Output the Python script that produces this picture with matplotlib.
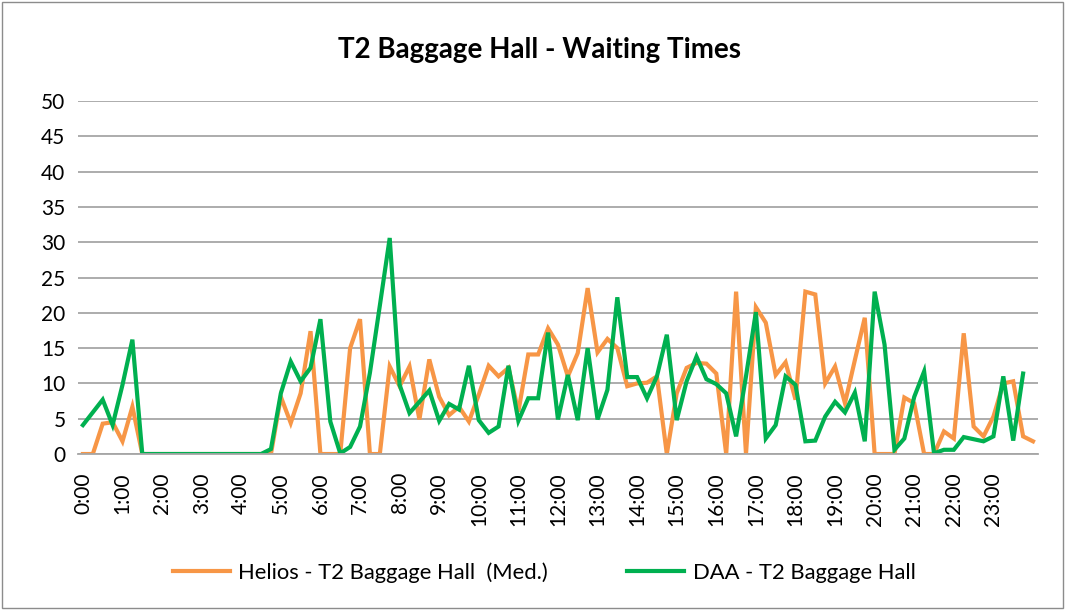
import matplotlib
matplotlib.use("Agg")
import matplotlib.pyplot as plt
import numpy as np
from matplotlib.patches import Rectangle

# 15-minute slots, 0:00 .. 24:00
times = ["%d:%02d" % (m // 60, m % 60) for m in range(0, 24 * 60 + 1, 15)]

helios = [0, 0, 4.3, 4.5, 1.8, 6.7,
          0, 0, 0, 0, 0, 0, 0, 0, 0, 0, 0, 0, 0, 0,
          8.1, 4.4, 8.6, 17.4, 0, 0, 0, 15.0, 19.1, 0, 0, 12.4,
          9.6, 12.4, 4.9, 13.4, 8.1, 5.5, 6.7, 4.6, 8.4, 12.5, 11.0, 12.2,
          6.0, 14.1, 14.1, 17.8, 15.5, 11.0, 14.3, 23.5, 14.4, 16.3, 15.0, 9.6,
          10.0, 10.1, 11.0, 0, 8.6, 12.2, 12.9, 12.8, 11.4, 0, 23.0, 0,
          20.8, 18.6, 11.2, 13.0, 7.7, 23.0, 22.6, 10.0, 12.4, 7.2, 13.3, 19.3,
          0, 0, 0, 8.0, 7.2, 0, 0, 3.2, 2.2, 17.1, 3.9, 2.5,
          5.3, 10.0, 10.3, 2.5, 1.8]

daa = [4.1, 5.9, 7.7, 4.1, 9.8, 16.2,
       0, 0, 0, 0, 0, 0, 0, 0, 0, 0, 0, 0, 0,
       0.7, 8.6, 13.1, 10.3, 12.2, 19.1, 4.6, 0.1, 1.0, 3.9, 11.5, 21.0, 30.6,
       9.8, 5.8, 7.4, 9.0, 4.7, 7.1, 6.3, 12.5, 4.8, 3.0, 3.9, 12.5,
       4.7, 7.9, 7.9, 17.2, 4.9, 11.2, 4.8, 15.0, 4.9, 9.1, 22.2, 10.9,
       10.9, 7.9, 11.0, 16.9, 4.8, 10.3, 13.8, 10.6, 9.9, 8.6, 2.5, 11.0,
       20.1, 2.2, 4.1, 11.0, 9.8, 1.8, 1.9, 5.3, 7.4, 5.9, 8.7, 1.8,
       23.0, 15.5, 0.6, 2.2, 8.1, 11.7, 0.1, 0.6, 0.6, 2.4, 2.1, 1.8,
       2.5, 11.0, 1.9, 11.4, np.nan]

plt.rcParams['font.family'] = ['Lato', 'DejaVu Sans']

fig = plt.figure(figsize=(10.65, 6.1), dpi=100)
ax = fig.add_axes([0.0732, 0.2557, 0.9014, 0.5787])

x = np.arange(len(times))
ax.plot(x, helios, color='#F79646', lw=3, solid_joinstyle='miter',
        label='Helios - T2 Baggage Hall  (Med.)')
ax.plot(x, daa, color='#00B050', lw=3, solid_joinstyle='miter',
        label='DAA - T2 Baggage Hall')

ax.set_xlim(-0.5, len(times) - 0.5)
ax.set_ylim(0, 50)
ax.set_yticks(range(0, 51, 5))
ax.set_xticks(x[0:96:4])
ax.set_xticklabels(times[0:96:4], rotation=90)
ax.tick_params(axis='both', length=0, labelsize=15, colors='black')
ax.tick_params(axis='y', pad=9)
ax.tick_params(axis='x', pad=13)

ax.grid(axis='y', color='#A6A6A6', lw=1.3)
ax.set_axisbelow(True)
for s in ['top', 'right', 'left']:
    ax.spines[s].set_visible(False)
ax.spines['bottom'].set_color('#A6A6A6')
ax.spines['bottom'].set_linewidth(1.3)

fig.text(0.507, 0.918, 'T2 Baggage Hall - Waiting Times', ha='center', va='center',
         fontsize=20, fontweight='bold')

fig.legend(loc='center', bbox_to_anchor=(0.511, 0.061), ncol=2, frameon=False,
           fontsize=15.8, handlelength=2.6, handletextpad=0.4, columnspacing=3.6)

fig.patches.append(Rectangle((0.002, 0.003), 0.996, 0.994, transform=fig.transFigure,
                             fill=False, edgecolor='#8C8C8C', lw=1))

plt.savefig('out.png', dpi=100)
